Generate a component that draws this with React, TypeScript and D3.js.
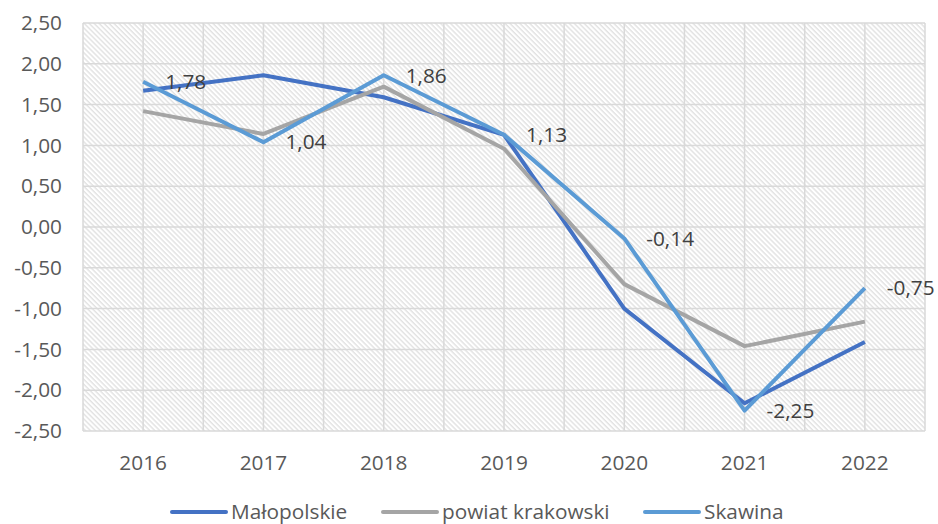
import React, { useEffect, useRef } from "react";
import * as d3 from "d3";

const years = ["2016", "2017", "2018", "2019", "2020", "2021", "2022"];
const malopolskie = [1.67, 1.86, 1.59, 1.13, -1.0, -2.16, -1.41];
const powiat = [1.42, 1.14, 1.72, 0.96, -0.7, -1.46, -1.16];
const skawina = [1.78, 1.04, 1.86, 1.13, -0.14, -2.25, -0.75];
const yTicks = [2.5, 2, 1.5, 1, 0.5, 0, -0.5, -1, -1.5, -2, -2.5];

const series = [
  { name: "Małopolskie", values: malopolskie, color: "#4472C4" },
  { name: "powiat krakowski", values: powiat, color: "#A5A5A5" },
  { name: "Skawina", values: skawina, color: "#5B9BD5" },
];

const fmt = (v: number) => v.toFixed(2).replace(".", ",");

const App = () => {
  const ref = useRef<HTMLDivElement>(null);

  useEffect(() => {
    document.body.style.margin = "0";
    const width = 938;
    const height = 524;
    const left = 83;
    const right = 925;
    const top = 23;
    const bottom = 431;
    const font = "'Open Sans', sans-serif";
    const fs = 20.8;
    const textColor = "#595959";

    const x = d3.scaleBand().domain(years).range([left, right]).paddingInner(0).paddingOuter(0);
    const bw = x.bandwidth();
    const cx = (d: string) => (x(d) as number) + bw / 2;
    const y = d3.scaleLinear().domain([-2.5, 2.5]).range([bottom, top]);

    d3.select(ref.current).selectAll("*").remove();
    const svg = d3
      .select(ref.current)
      .append("svg")
      .attr("width", width)
      .attr("height", height)
      .style("display", "block");

    const defs = svg.append("defs");
    const pat = defs
      .append("pattern")
      .attr("id", "hatch")
      .attr("patternUnits", "userSpaceOnUse")
      .attr("width", 3.5)
      .attr("height", 3.5)
      .attr("patternTransform", "rotate(-45)");
    pat.append("rect").attr("width", 3.5).attr("height", 3.5).attr("fill", "#fff");
    pat
      .append("line")
      .attr("x1", 1)
      .attr("x2", 1)
      .attr("y1", 0)
      .attr("y2", 3.5)
      .attr("stroke", "#dcdcdc")
      .attr("stroke-width", 1.2);

    svg
      .append("rect")
      .attr("x", left)
      .attr("y", top)
      .attr("width", right - left)
      .attr("height", bottom - top)
      .attr("fill", "url(#hatch)");

    // gridlines
    const grid = svg.append("g").attr("stroke", "#d9d9d9").attr("stroke-width", 1.5);
    grid
      .selectAll("line.h")
      .data(yTicks)
      .join("line")
      .attr("x1", left)
      .attr("x2", right)
      .attr("y1", (d) => y(d))
      .attr("y2", (d) => y(d));
    const vx: number[] = [];
    years.forEach((d) => {
      vx.push(x(d) as number, cx(d));
    });
    vx.push(right);
    grid
      .selectAll("line.v")
      .data(vx)
      .join("line")
      .attr("x1", (d) => d)
      .attr("x2", (d) => d)
      .attr("y1", top)
      .attr("y2", bottom);

    // y labels
    svg
      .append("g")
      .selectAll("text")
      .data(yTicks)
      .join("text")
      .attr("x", 62)
      .attr("y", (d) => y(d))
      .attr("dy", "0.35em")
      .attr("text-anchor", "end")
      .attr("font-family", font)
      .attr("font-size", fs)
      .attr("fill", textColor)
      .text((d) => fmt(d));

    // x labels
    svg
      .append("g")
      .selectAll("text")
      .data(years)
      .join("text")
      .attr("x", (d) => cx(d))
      .attr("y", 463)
      .attr("dy", "0.35em")
      .attr("text-anchor", "middle")
      .attr("font-family", font)
      .attr("font-size", fs)
      .attr("fill", textColor)
      .text((d) => d);

    const line = d3
      .line<number>()
      .x((_, i) => cx(years[i]))
      .y((d) => y(d));

    series.forEach((s) => {
      svg
        .append("path")
        .datum(s.values)
        .attr("d", line)
        .attr("fill", "none")
        .attr("stroke", s.color)
        .attr("stroke-width", 4)
        .attr("stroke-linejoin", "round");
    });

    // data labels for Skawina
    svg
      .append("g")
      .selectAll("text")
      .data(skawina)
      .join("text")
      .attr("x", (_, i) => cx(years[i]) + 22)
      .attr("y", (d) => y(d))
      .attr("dy", "0.35em")
      .attr("font-family", font)
      .attr("font-size", fs)
      .attr("fill", "#404040")
      .text((d) => fmt(d));

    // legend
    const legendX = [172, 383, 645];
    const lg = svg.append("g");
    series.forEach((s, i) => {
      lg.append("line")
        .attr("x1", legendX[i])
        .attr("x2", legendX[i] + 54)
        .attr("y1", 512)
        .attr("y2", 512)
        .attr("stroke", s.color)
        .attr("stroke-width", 4)
        .attr("stroke-linecap", "round");
      lg.append("text")
        .attr("x", legendX[i] + 59)
        .attr("y", 512)
        .attr("dy", "0.35em")
        .attr("font-family", font)
        .attr("font-size", fs)
        .attr("fill", textColor)
        .text(s.name);
    });
  }, []);

  return <div ref={ref}></div>;
};

export default App;
